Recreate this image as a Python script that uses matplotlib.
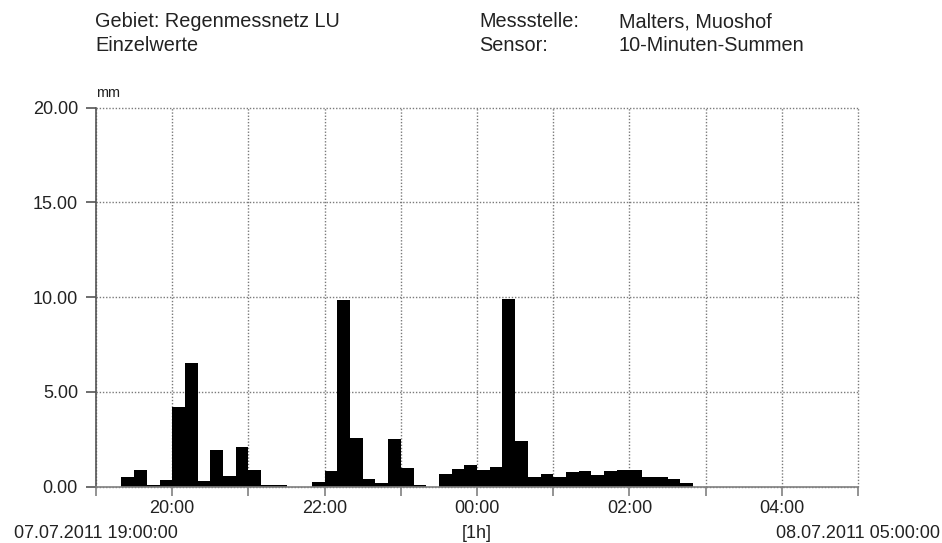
import matplotlib
matplotlib.use("Agg")
import matplotlib.pyplot as plt
import numpy as np

plt.rcParams['font.family'] = ['Liberation Sans', 'DejaVu Sans']

# 10-minute rain sums (mm), starting 07.07.2011 19:00
rain_mm = [0, 0, 0.5, 0.85, 0.1, 0.35,
           4.2, 6.5, 0.3, 1.9, 0.55, 2.1,
           0.85, 0.1, 0.08, 0, 0, 0.25,
           0.8, 9.85, 2.55, 0.4, 0.2, 2.5,
           1.0, 0.1, 0, 0.65, 0.9, 1.15,
           0.88, 1.05, 9.9, 2.4, 0.5, 0.65,
           0.5, 0.75, 0.8, 0.63, 0.8, 0.85,
           0.85, 0.5, 0.5, 0.42, 0.2, 0,
           0, 0, 0, 0, 0, 0,
           0, 0, 0, 0, 0, 0]
hour_ticks = [0, 1, 2, 3, 4, 5, 6, 7, 8, 9, 10]
hour_labels = ['', '20:00', '', '22:00', '', '00:00', '', '02:00', '', '04:00', '']
y_ticks = [0, 5, 10, 15, 20]
y_labels = ['0.00', '5.00', '10.00', '15.00', '20.00']

W, H = 942, 543
fig = plt.figure(figsize=(W / 100, H / 100), dpi=100)
ax = fig.add_axes([96 / W, 1 - 486.5 / H, (858 - 96) / W, (486.5 - 107.5) / H])

x = np.arange(len(rain_mm)) / 6.0
ax.bar(x, rain_mm, width=1 / 6.0, align='edge', color='black', linewidth=0, zorder=2)

ax.set_xlim(0, 10)
ax.set_ylim(0, 20)
ax.set_xticks(hour_ticks)
ax.set_xticklabels(hour_labels)
ax.set_yticks(y_ticks)
ax.set_yticklabels(y_labels)

ax.grid(True, linestyle=(0, (1, 1.3)), color='#7a7a7a', linewidth=1.0, zorder=0)
ax.set_axisbelow(True)
for gl in ax.get_xgridlines() + ax.get_ygridlines():
    gl.set_clip_on(False)
for s in ['top', 'right']:
    ax.spines[s].set_visible(False)
ax.spines['left'].set_color('#555555')
ax.spines['bottom'].set_color('#808080')
ax.spines['left'].set_linewidth(1.2)
ax.spines['bottom'].set_linewidth(1.2)

ax.tick_params(axis='x', direction='out', length=6.5, width=1.2, color='#808080',
               labelsize=13, pad=3, labelcolor='#222222')
ax.tick_params(axis='y', direction='out', length=7, width=1.2, color='#555555',
               labelsize=13, pad=6, labelcolor='#222222')

def ftext(px, py, s, size, ha='left'):
    fig.text(px / W, 1 - py / H, s, fontsize=size, ha=ha, va='baseline', color='#222222')

ftext(95, 27, 'Gebiet: Regenmessnetz LU', 14.3)
ftext(95, 51, 'Einzelwerte', 14.3)
ftext(479, 27, 'Messstelle:', 14.3)
ftext(479, 51, 'Sensor:', 14.3)
ftext(619, 27, 'Malters, Muoshof', 14.3)
ftext(619, 51, '10-Minuten-Summen', 14.3)
ftext(96, 97, 'mm', 10.4)

ftext(96, 538, '07.07.2011 19:00:00', 13, ha='center')
ftext(477, 538, '[1h]', 13, ha='center')
ftext(858, 538, '08.07.2011 05:00:00', 13, ha='center')

fig.savefig('out.png', dpi=100)
